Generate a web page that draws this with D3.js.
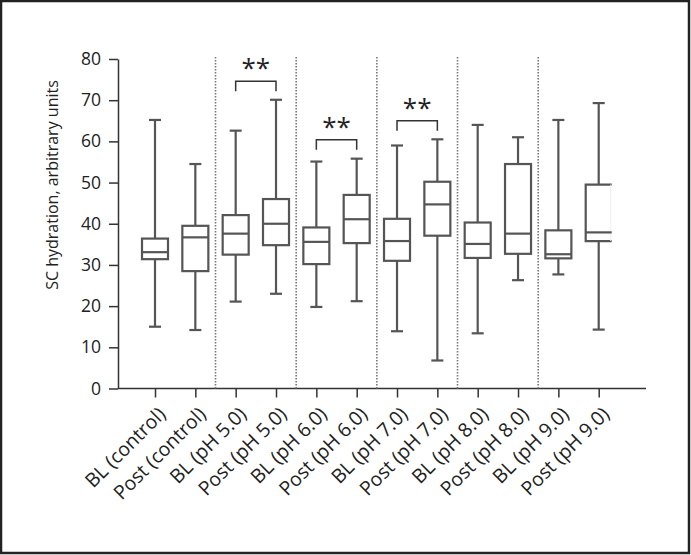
<!DOCTYPE html>
<html><head><meta charset="utf-8">
<script src="https://cdn.jsdelivr.net/npm/d3@7"></script>
<style>
body{margin:0;background:#fff;}
svg{display:block;font-family:"Open Sans",sans-serif;}
</style></head>
<body>
<svg id="chart" width="691" height="555"></svg>
<script>
const categories = ["BL (control)","Post (control)","BL (pH 5.0)","Post (pH 5.0)","BL (pH 6.0)","Post (pH 6.0)","BL (pH 7.0)","Post (pH 7.0)","BL (pH 8.0)","Post (pH 8.0)","BL (pH 9.0)","Post (pH 9.0)"];
const whiskerLow  = [15.0, 14.2, 21.1, 23.0, 19.8, 21.2, 13.9, 6.8, 13.4, 26.3, 27.7, 14.3];
const q1          = [31.4, 28.5, 32.5, 34.8, 30.2, 35.3, 31.0, 37.1, 31.7, 32.7, 31.6, 35.8];
const median      = [33.1, 36.7, 37.6, 40.0, 35.6, 41.1, 35.8, 44.7, 35.1, 37.6, 32.6, 37.9];
const q3          = [36.4, 39.5, 42.1, 46.0, 39.1, 47.0, 41.2, 50.2, 40.3, 54.5, 38.4, 49.5];
const whiskerHigh = [65.2, 54.5, 62.6, 70.1, 55.1, 55.8, 59.0, 60.5, 64.0, 61.0, 65.2, 69.3];
const yTicks = [0,10,20,30,40,50,60,70,80];
const sigPairs = [["BL (pH 5.0)","Post (pH 5.0)"],["BL (pH 6.0)","Post (pH 6.0)"],["BL (pH 7.0)","Post (pH 7.0)"]];
const sigLevel = [74.6, 60.4, 65.0];
const sigLabel = ["**","**","**"];
const yTitle = "SC hydration, arbitrary units";

const svg = d3.select("#chart");
const stroke = "#555";

// frame
svg.append("rect").attr("x",1).attr("y",1).attr("width",688).attr("height",552)
  .attr("fill","none").attr("stroke","#222").attr("stroke-width",2.5);

const y = d3.scaleLinear().domain([0,80]).range([388.5,59]);
const x = d3.scalePoint().domain(categories).range([155,598.7]);
const axisX0 = 118, axisX1 = 646;

// y axis
const yAxis = svg.append("g").attr("transform",`translate(${axisX0},0)`)
  .call(d3.axisLeft(y).tickValues(yTicks).tickSize(9).tickPadding(8).tickSizeOuter(0));
yAxis.select(".domain").attr("stroke","#333").attr("stroke-width",1.5);
yAxis.selectAll(".tick line").attr("stroke","#333").attr("stroke-width",1.5);
yAxis.selectAll("text").attr("font-size",17.5).attr("fill","#222").attr("font-family","Open Sans");

// x axis
const xAxis = svg.append("g").attr("transform",`translate(0,${y(0)})`)
  .call(d3.axisBottom(x).tickSize(9).tickSizeOuter(0).tickFormat(""));
xAxis.select(".domain").remove();
xAxis.append("line").attr("x1",axisX0).attr("x2",axisX1).attr("stroke","#333").attr("stroke-width",1.5);
xAxis.selectAll(".tick line").attr("stroke","#333").attr("stroke-width",1.5);

svg.append("g").selectAll("text").data(categories).join("text")
  .attr("transform",d=>`translate(${x(d)+7},${y(0)+22}) rotate(-45)`)
  .attr("text-anchor","end").attr("dy","0.35em")
  .attr("font-size",19.5).attr("fill","#222").text(d=>d);

// y title
svg.append("text").attr("transform",`translate(58,185) rotate(-90)`)
  .attr("text-anchor","middle").attr("font-size",16).attr("fill","#222").text(yTitle);

// separators
for (let i = 1; i < categories.length/2; i++) {
  const sx = (x(categories[2*i-1]) + x(categories[2*i]))/2;
  svg.append("line").attr("x1",sx).attr("x2",sx).attr("y1",y(80)-2).attr("y2",y(0))
    .attr("stroke","#777").attr("stroke-width",1.6).attr("stroke-dasharray","1.4,1.6");
}

// boxes
const bw = 26, cw = 12;
const g = svg.append("g").attr("stroke",stroke).attr("stroke-width",2.2).attr("fill","none");
categories.forEach((c,i)=>{
  const cx = x(c);
  g.append("line").attr("x1",cx).attr("x2",cx).attr("y1",y(whiskerHigh[i])).attr("y2",y(q3[i]));
  g.append("line").attr("x1",cx).attr("x2",cx).attr("y1",y(q1[i])).attr("y2",y(whiskerLow[i]));
  g.append("line").attr("x1",cx-cw/2).attr("x2",cx+cw/2).attr("y1",y(whiskerHigh[i])).attr("y2",y(whiskerHigh[i]));
  g.append("line").attr("x1",cx-cw/2).attr("x2",cx+cw/2).attr("y1",y(whiskerLow[i])).attr("y2",y(whiskerLow[i]));
  if (i === categories.length-1) {
    g.append("path").attr("d",`M${cx+bw/2},${y(q3[i])}H${cx-bw/2}V${y(q1[i])}H${cx+bw/2}`);
    g.append("line").attr("x1",cx+bw/2-1).attr("x2",cx+bw/2-1).attr("y1",y(q3[i])).attr("y2",y(q1[i])).attr("stroke","#eee").attr("stroke-width",1);
  } else {
    g.append("rect").attr("x",cx-bw/2).attr("y",y(q3[i])).attr("width",bw).attr("height",y(q1[i])-y(q3[i]));
  }
  g.append("line").attr("x1",cx-bw/2).attr("x2",cx+bw/2).attr("y1",y(median[i])).attr("y2",y(median[i]));
});

// significance brackets
sigPairs.forEach((p,i)=>{
  const x1 = x(p[0]), x2 = x(p[1]), yy = y(sigLevel[i]);
  svg.append("path").attr("d",`M${x1},${yy+10}V${yy}H${x2}V${yy+10}`)
    .attr("fill","none").attr("stroke","#333").attr("stroke-width",1.5);
  svg.append("text").attr("x",(x1+x2)/2).attr("y",yy-4).attr("text-anchor","middle")
    .attr("font-size",26).attr("fill","#222").text(sigLabel[i]);
});
</script>
</body></html>
